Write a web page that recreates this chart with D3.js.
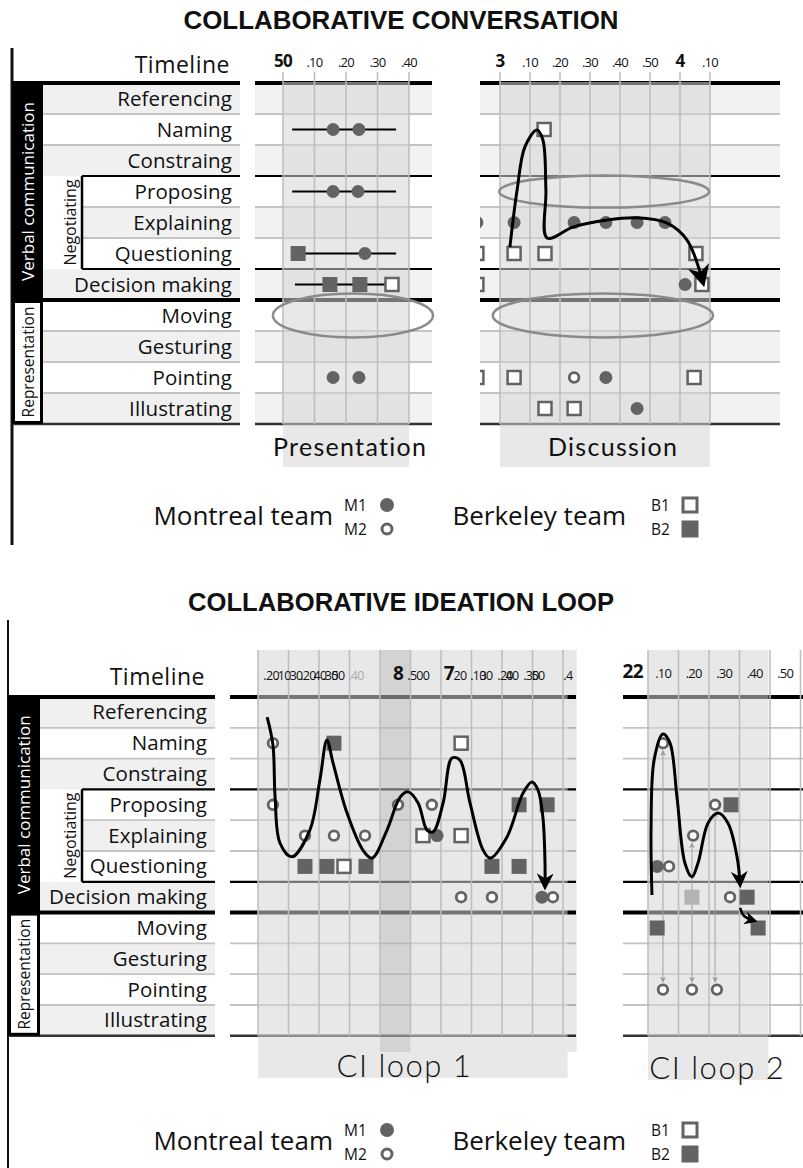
<!DOCTYPE html>
<html>
<head>
<meta charset="utf-8" />
<title>Collaborative conversation / ideation loop</title>
<script src="https://d3js.org/d3.v7.min.js"></script>
<style>
  body { margin: 0; background: #fff; }
  svg text { font-family: "Open Sans", sans-serif; fill: #111; }
</style>
</head>
<body>
<svg id="fig" width="803" height="1168"></svg>
<script>
// ---- data ----
var rowNames = ["Referencing", "Naming", "Constraing", "Proposing", "Explaining", "Questioning",
                "Decision making", "Moving", "Gesturing", "Pointing", "Illustrating"];

var presTicks = ["50", ".10", ".20", ".30", ".40"];
var presTickCols = [0, 1, 2, 3, 4];
var presBold = [0];

var discTicks = ["3", ".10", ".20", ".30", ".40", ".50", "4", ".10"];
var discTickCols = [0, 1, 2, 3, 4, 5, 6, 7];
var discBold = [0, 6];

// the loop-1 timeline has two overlapping label rows in the original
var loop1Ticks = [".20", ".10", "30", ".20", "40", ".30", "50", ".40", "8", ".50", "0",
                  "7", "20", ".10", "30", ".20", "40", ".30", "50", ".4"];
var loop1TickCols = [0.43, 0.82, 1.25, 1.64, 2.03, 2.36, 2.62, 3.21, 4.59, 5.15, 5.51,
                     6.26, 6.62, 7.21, 7.48, 8.10, 8.33, 8.95, 9.18, 10.16];
var loop1Bold = [8, 11];

var loop2Ticks = ["22", ".10", ".20", ".30", ".40", ".50"];
var loop2TickCols = [-0.5, 0.5, 1.5, 2.5, 3.5, 4.5];
var loop2Bold = [0];

// marks: [row index, column position, actor]
var presMarks = [
  [1, 1.59, "M1"], [1, 2.41, "M1"],
  [3, 1.59, "M1"], [3, 2.38, "M1"],
  [5, 0.48, "B2"], [5, 2.6, "M1"],
  [6, 1.49, "B2"], [6, 2.44, "B2"], [6, 3.46, "B1"],
  [9, 1.59, "M1"], [9, 2.41, "M1"]
];
// [row, from col, to col]
var presSpans = [[1, 0.29, 3.59], [3, 0.29, 3.59], [5, 0.29, 3.59], [6, 0.38, 3.46]];
// [row, col centre, col radius, row radius]
var presEllipses = [[7, 2.22, 2.54, 0.71]];

var discMarks = [
  [1, 1.47, "B1"],
  [4, -0.77, "M1"], [4, 0.47, "M1"], [4, 2.47, "M1"], [4, 3.53, "M1"], [4, 4.57, "M1"], [4, 5.5, "M1"],
  [5, -0.77, "B1"], [5, 0.47, "B1"], [5, 1.5, "B1"], [5, 6.53, "B1"],
  [6, -0.77, "B1"], [6, 6.17, "M1"], [6, 6.73, "B1"],
  [9, -0.77, "B1"], [9, 0.47, "B1"], [9, 2.47, "M2"], [9, 3.53, "M1"], [9, 6.47, "B1"],
  [10, 1.5, "B1"], [10, 2.47, "B1"], [10, 4.57, "M1"]
];
var discEllipses = [[3, 3.47, 3.5, 0.52], [7, 3.43, 3.67, 0.71]];
// [col, row position]
var discCurve = [[0.33, 5.29], [0.57, 3.45], [0.83, 2.06], [1.23, 1.52], [1.43, 1.84], [1.53, 3.45],
                 [1.57, 5.0], [2.43, 4.65], [3.57, 4.42], [4.57, 4.35], [5.57, 4.52], [6.23, 5.06], [6.77, 6.45]];

var loop1Marks = [
  [1, 0.49, "M2"], [1, 2.49, "B2"], [1, 6.66, "B1"],
  [3, 0.49, "M2"], [3, 4.59, "M2"], [3, 5.70, "M2"], [3, 8.56, "B2"], [3, 9.48, "B2"],
  [4, 1.54, "M2"], [4, 2.49, "M2"], [4, 3.51, "M2"], [4, 5.41, "B1"], [4, 5.87, "M1"], [4, 6.66, "B1"],
  [5, 1.54, "B2"], [5, 2.26, "B2"], [5, 2.82, "B1"], [5, 3.54, "B2"], [5, 7.67, "B2"], [5, 8.56, "B2"],
  [6, 6.66, "M2"], [6, 7.67, "M2"], [6, 9.31, "M1"], [6, 9.67, "M2"]
];
var loop1Curve = [[0.30, 0.65], [0.49, 1.56], [0.56, 3.25], [0.72, 4.74], [1.11, 5.19], [1.70, 4.32],
                  [2.03, 2.69], [2.26, 1.40], [2.46, 2.14], [2.92, 3.77], [3.44, 4.97], [3.74, 5.23],
                  [4.23, 4.32], [4.66, 3.25], [4.92, 3.08], [5.25, 3.44], [5.54, 4.32], [5.74, 4.38],
                  [6.07, 3.44], [6.36, 1.98], [6.62, 2.05], [6.95, 3.44], [7.38, 4.97], [7.61, 5.23],
                  [8.16, 4.55], [8.69, 3.12], [8.98, 2.76], [9.18, 3.02], [9.34, 3.90], [9.41, 5.39], [9.41, 6.17]];

var loop2Marks = [
  [1, 0.49, "M2"],
  [3, 2.2, "M2"], [3, 2.72, "B2"],
  [4, 1.48, "M2"],
  [5, 0.30, "M1"], [5, 0.69, "M2"],
  [6, 1.44, "B2f"], [6, 2.69, "M2"], [6, 3.25, "B2"],
  [7, 0.30, "B2"], [7, 3.61, "B2"],
  [9, 0.49, "M2"], [9, 1.44, "M2"], [9, 2.26, "M2"]
];
var loop2Curve = [[0.13, 6.43], [0.10, 4.32], [0.20, 2.05], [0.49, 1.20], [0.72, 1.49], [0.95, 3.25],
                  [1.21, 5.39], [1.44, 5.84], [1.64, 5.39], [1.97, 4.09], [2.30, 3.77], [2.62, 4.09],
                  [2.92, 5.19], [3.02, 6.10]];
var loop2Hook = [[3.02, 6.85], [3.15, 7.11], [3.51, 7.27]];
// [col, from row, to row]
var loop2Links = [[0.49, 1, 9], [1.44, 4, 9], [2.2, 3, 9]];

var legendTeams = ["Montreal team", "Berkeley team"];
var legendActors = [["M1", "M2"], ["B1", "B2"]];

// ---- layout ----
var svg = d3.select("#fig");
var markColor = "#636363";

var defs = svg.append("defs");
function addMarker(id, size, color, orient) {
  defs.append("marker").attr("id", id)
    .attr("viewBox", "0 0 10 10").attr("refX", 8).attr("refY", 5)
    .attr("markerWidth", size).attr("markerHeight", size)
    .attr("markerUnits", "userSpaceOnUse").attr("orient", orient || "auto")
    .append("path").attr("d", "M0,0 L10,5 L0,10 L3,5 Z").attr("fill", color);
}
addMarker("headBig", 22, "#000");
addMarker("headMid", 17, "#000");
addMarker("headSmall", 13, "#000");
addMarker("thinHead", 6, "#999", "auto-start-reverse");

var sections = [
  {title: "COLLABORATIVE CONVERSATION", titleY: 29, titleW: 435, y0: 83, rowH: 31,
   axisX: 12, axisTop: 48, axisBottom: 545, axisW: 3,
   blockX: 12, labelX0: 43, labelX1: 240, labelRight: 232, negX: 82, timelineY: 73, legendY: 525},
  {title: "COLLABORATIVE IDEATION LOOP", titleY: 611, titleW: 426, y0: 697, rowH: 30.8,
   axisX: 8, axisTop: 620, axisBottom: 1168, axisW: 2,
   blockX: 8, labelX0: 40, labelX1: 215, labelRight: 207, negX: 82, timelineY: 685, legendY: 1150}
];

function lineStyle(b) {
  if (b === 0 || b === 7) return {c: "#000", w: 4};
  if (b === 3 || b === 6) return {c: "#000", w: 2.2};
  if (b === 11) return {c: "#333", w: 2.5};
  return {c: "#c4c4c4", w: 1.8};
}

sections.forEach(function(s) {
  var y = d3.scaleLinear().domain([0, 11]).range([s.y0, s.y0 + 11 * s.rowH]);
  s.y = y;
  var g = svg.append("g");

  g.append("text").attr("x", 401).attr("y", s.titleY).attr("text-anchor", "middle")
    .style("font-family", "'Liberation Sans', Arial, sans-serif")
    .attr("font-weight", "bold").attr("font-size", 26)
    .attr("textLength", s.titleW).attr("lengthAdjust", "spacingAndGlyphs")
    .text(s.title);

  g.append("line").attr("x1", s.axisX).attr("x2", s.axisX)
    .attr("y1", s.axisTop).attr("y2", s.axisBottom)
    .attr("stroke", "#111").attr("stroke-width", s.axisW);

  // alternating row backgrounds of the label column
  g.selectAll("rect.bg").data(d3.range(0, 11, 2)).join("rect")
    .attr("x", function(i) { return (i >= 3 && i <= 5) ? s.negX : s.labelX0; })
    .attr("width", function(i) { return s.labelX1 - ((i >= 3 && i <= 5) ? s.negX : s.labelX0); })
    .attr("y", function(i) { return y(i); }).attr("height", s.rowH)
    .attr("fill", "#f0f0f0");

  g.selectAll("line.h").data(d3.range(12)).join("line")
    .attr("x1", function(b) {
      if (b === 0 || b === 7 || b === 11) return s.blockX;
      if (b >= 3 && b <= 6) return s.negX;
      return s.labelX0;
    })
    .attr("x2", s.labelX1)
    .attr("y1", function(b) { return y(b); }).attr("y2", function(b) { return y(b); })
    .attr("stroke", function(b) { return lineStyle(b).c; })
    .attr("stroke-width", function(b) { return lineStyle(b).w; });

  // group blocks
  g.append("rect").attr("x", s.blockX).attr("y", y(0) - 2)
    .attr("width", s.labelX0 - s.blockX).attr("height", y(7) - y(0) + 2).attr("fill", "#000");
  g.append("rect").attr("x", s.blockX + 1.5).attr("y", y(7) + 1.5)
    .attr("width", s.labelX0 - s.blockX - 3).attr("height", y(11) - y(7) - 3)
    .attr("fill", "#fff").attr("stroke", "#000").attr("stroke-width", 3);
  var bx = (s.blockX + s.labelX0) / 2 + 6;
  g.append("text").attr("transform", "translate(" + bx + "," + (y(0) + y(7)) / 2 + ") rotate(-90)")
    .attr("text-anchor", "middle").attr("font-size", 17).style("fill", "#fff")
    .text("Verbal communication");
  g.append("text").attr("transform", "translate(" + bx + "," + (y(7) + y(11)) / 2 + ") rotate(-90)")
    .attr("text-anchor", "middle").attr("font-size", 15.5)
    .text("Representation");

  // negotiating bracket
  g.append("line").attr("x1", s.negX).attr("x2", s.negX).attr("y1", y(3)).attr("y2", y(6))
    .attr("stroke", "#000").attr("stroke-width", 2.5);
  g.append("text").attr("transform", "translate(" + (s.negX - 6) + "," + (y(3) + y(6)) / 2 + ") rotate(-90)")
    .attr("text-anchor", "middle").attr("font-size", 16).text("Negotiating");

  g.selectAll("text.row").data(rowNames).join("text")
    .attr("x", s.labelRight).attr("y", function(d, i) { return y(i + 0.5) + 7; })
    .attr("text-anchor", "end").attr("font-size", 20.5).attr("letter-spacing", 0.1)
    .text(function(d) { return d; });

  g.append("text").attr("x", s.labelRight - 2).attr("y", s.timelineY).attr("text-anchor", "end")
    .attr("font-size", 23).attr("letter-spacing", 0.5).text("Timeline");

  // legend
  var teamRight = [333, 626], actorX = [344, 651], symX = [387, 690];
  legendTeams.forEach(function(team, t) {
    g.append("text").attr("x", teamRight[t]).attr("y", s.legendY).attr("text-anchor", "end")
      .attr("font-size", 26).text(team);
    legendActors[t].forEach(function(a, k) {
      var cy = s.legendY - 20 + k * 24;
      g.append("text").attr("x", actorX[t]).attr("y", cy + 6).attr("font-size", 15.5).text(a);
      if (a === "M1") g.append("circle").attr("cx", symX[t]).attr("cy", cy).attr("r", 7).attr("fill", markColor);
      if (a === "M2") g.append("circle").attr("cx", symX[t]).attr("cy", cy).attr("r", 5)
        .attr("fill", "#fff").attr("stroke", markColor).attr("stroke-width", 3);
      if (a === "B1") g.append("rect").attr("x", symX[t] - 7).attr("y", cy - 7).attr("width", 14).attr("height", 14)
        .attr("fill", "#fff").attr("stroke", markColor).attr("stroke-width", 3);
      if (a === "B2") g.append("rect").attr("x", symX[t] - 8.5).attr("y", cy - 8.5).attr("width", 17).attr("height", 17)
        .attr("fill", markColor);
    });
  });
});

var panels = [
  {sec: 0, x0: 255, x1: 432, gx: 283, colW: 31.5, nCols: 4, gridTop: 72,
   ticks: presTicks, tickCols: presTickCols, bold: presBold, tickY: 67, tickSize: 13, boldSize: 17,
   band: [0, 4], bandTop: 82, bandBottom: 467, darkBands: [],
   label: "Presentation", labelCol: 2.13, labelY: 456, labelSize: 25, altBg: true,
   marks: presMarks, spans: presSpans, ellipses: presEllipses, curves: []},
  {sec: 0, x0: 480, x1: 780, gx: 500, colW: 30, nCols: 7, gridTop: 72,
   ticks: discTicks, tickCols: discTickCols, bold: discBold, tickY: 67, tickSize: 13, boldSize: 17,
   band: [0, 7], bandTop: 82, bandBottom: 467, darkBands: [],
   label: "Discussion", labelCol: 3.77, labelY: 456, labelSize: 25, altBg: true,
   marks: discMarks, spans: [], ellipses: discEllipses,
   curves: [{pts: discCurve, head: "headBig", w: 3}]},
  {sec: 1, x0: 230, x1: 576, gx: 258, colW: 30.5, nCols: 10, gridTop: 650,
   ticks: loop1Ticks, tickCols: loop1TickCols, bold: loop1Bold, tickY: 680, tickSize: 12.5, boldSize: 19,
   band: [0, 10.15], bandTop: 650, bandBottom: 1078, darkBands: [[4, 5], [10.15, 10.45]], darkBottom: 1052,
   label: "CI loop 1", labelCol: 4.8, labelY: 1077, labelSize: 31, altBg: false,
   marks: loop1Marks, spans: [], ellipses: [],
   curves: [{pts: loop1Curve, head: "headMid", w: 3}]},
  {sec: 1, x0: 623, x1: 803, gx: 648, colW: 30.5, nCols: 5, gridTop: 650,
   ticks: loop2Ticks, tickCols: loop2TickCols, bold: loop2Bold, tickY: 678, tickSize: 13, boldSize: 19,
   band: [0, 3.95], bandTop: 650, bandBottom: 1080, darkBands: [],
   label: "CI loop 2", labelCol: 2.27, labelY: 1079, labelSize: 31, altBg: false,
   marks: loop2Marks, spans: [], ellipses: [], links: loop2Links,
   curves: [{pts: loop2Curve, head: "headMid", w: 3}, {pts: loop2Hook, head: "headSmall", w: 2.5}]}
];

panels.forEach(function(p, k) {
  var s = sections[p.sec];
  var y = s.y;
  var x = d3.scaleLinear().domain([0, p.nCols]).range([p.gx, p.gx + p.nCols * p.colW]);
  var g = svg.append("g");

  defs.append("clipPath").attr("id", "clip" + k)
    .append("rect").attr("x", p.x0).attr("y", 0).attr("width", p.x1 - p.x0).attr("height", 1168);

  if (p.altBg) {
    g.selectAll("rect.bg").data(d3.range(0, 11, 2)).join("rect")
      .attr("x", p.x0).attr("width", p.x1 - p.x0)
      .attr("y", function(i) { return y(i); }).attr("height", s.rowH)
      .attr("fill", "#f2f2f2");
  }

  g.selectAll("line.h").data(d3.range(12)).join("line")
    .attr("x1", p.x0).attr("x2", p.x1)
    .attr("y1", function(b) { return y(b); }).attr("y2", function(b) { return y(b); })
    .attr("stroke", function(b) { return lineStyle(b).c; })
    .attr("stroke-width", function(b) { return lineStyle(b).w; });

  // shaded phase band
  g.append("rect").attr("x", x(p.band[0])).attr("width", x(p.band[1]) - x(p.band[0]))
    .attr("y", p.bandTop).attr("height", p.bandBottom - p.bandTop)
    .attr("fill", "#d6d6d6").attr("opacity", 0.55);
  p.darkBands.forEach(function(b) {
    g.append("rect").attr("x", x(b[0])).attr("width", x(b[1]) - x(b[0]))
      .attr("y", p.bandTop).attr("height", p.darkBottom - p.bandTop)
      .attr("fill", "#000").attr("opacity", 0.09);
  });

  g.selectAll("line.v").data(d3.range(p.nCols + 1)).join("line")
    .attr("x1", function(c) { return x(c); }).attr("x2", function(c) { return x(c); })
    .attr("y1", p.gridTop).attr("y2", y(11))
    .attr("stroke", "#bdbdbd").attr("stroke-width", 1.5);

  g.selectAll("text.tick").data(p.ticks).join("text")
    .attr("x", function(d, i) { return x(p.tickCols[i]); }).attr("y", p.tickY)
    .attr("text-anchor", "middle")
    .attr("letter-spacing", -0.7)
    .attr("font-size", function(d, i) { return p.bold.indexOf(i) >= 0 ? p.boldSize : p.tickSize; })
    .attr("font-weight", function(d, i) { return p.bold.indexOf(i) >= 0 ? "bold" : "normal"; })
    .style("fill", function(d, i) { return (k === 2 && i === 7) ? "#aaa" : "#111"; })
    .text(function(d) { return d; });

  g.append("text").attr("x", x(p.labelCol)).attr("y", p.labelY).attr("text-anchor", "middle")
    .style("font-family", "Lato, sans-serif").attr("font-weight", p.sec === 1 ? 300 : 400)
    .attr("font-size", p.labelSize).attr("letter-spacing", p.sec === 1 ? 1.5 : 1.3)
    .text(p.label);

  g.selectAll("ellipse").data(p.ellipses).join("ellipse")
    .attr("cx", function(d) { return x(d[1]); }).attr("cy", function(d) { return y(d[0] + 0.5); })
    .attr("rx", function(d) { return d[2] * p.colW; }).attr("ry", function(d) { return d[3] * s.rowH; })
    .attr("fill", "none").attr("stroke", "#8a8a8a").attr("stroke-width", 2.5);

  g.selectAll("line.span").data(p.spans).join("line")
    .attr("x1", function(d) { return x(d[1]); }).attr("x2", function(d) { return x(d[2]); })
    .attr("y1", function(d) { return y(d[0] + 0.5); }).attr("y2", function(d) { return y(d[0] + 0.5); })
    .attr("stroke", "#000").attr("stroke-width", 2.2);

  (p.links || []).forEach(function(d) {
    g.append("line").attr("x1", x(d[0])).attr("x2", x(d[0]))
      .attr("y1", y(d[1] + 0.5) + 8).attr("y2", y(d[2] + 0.5) - 8)
      .attr("stroke", "#a0a0a0").attr("stroke-width", 1)
      .attr("marker-start", "url(#thinHead)").attr("marker-end", "url(#thinHead)");
  });

  var mg = g.append("g").attr("clip-path", "url(#clip" + k + ")");
  mg.selectAll("circle").data(p.marks.filter(function(d) { return d[2][0] === "M"; })).join("circle")
    .attr("cx", function(d) { return x(d[1]); }).attr("cy", function(d) { return y(d[0] + 0.5); })
    .attr("r", function(d) { return d[2] === "M1" ? 6.5 : 4.8; })
    .attr("fill", function(d) { return d[2] === "M1" ? markColor : "#fff"; })
    .attr("stroke", function(d) { return d[2] === "M1" ? "none" : markColor; })
    .attr("stroke-width", 2.8);
  mg.selectAll("rect").data(p.marks.filter(function(d) { return d[2][0] === "B"; })).join("rect")
    .attr("x", function(d) { return x(d[1]) - (d[2] === "B1" ? 6.5 : 7.5); })
    .attr("y", function(d) { return y(d[0] + 0.5) - (d[2] === "B1" ? 6.5 : 7.5); })
    .attr("width", function(d) { return d[2] === "B1" ? 13 : 15; })
    .attr("height", function(d) { return d[2] === "B1" ? 13 : 15; })
    .attr("fill", function(d) { return d[2] === "B1" ? "#fff" : (d[2] === "B2f" ? "#b3b3b3" : markColor); })
    .attr("stroke", function(d) { return d[2] === "B1" ? markColor : "none"; })
    .attr("stroke-width", 2.5);

  var line = d3.line()
    .x(function(d) { return x(d[0]); }).y(function(d) { return y(d[1]); })
    .curve(d3.curveCatmullRom.alpha(0.5));
  p.curves.forEach(function(c) {
    g.append("path").attr("d", line(c.pts)).attr("fill", "none")
      .attr("stroke", "#000").attr("stroke-width", c.w)
      .attr("marker-end", "url(#" + c.head + ")");
  });
});
</script>
</body>
</html>
